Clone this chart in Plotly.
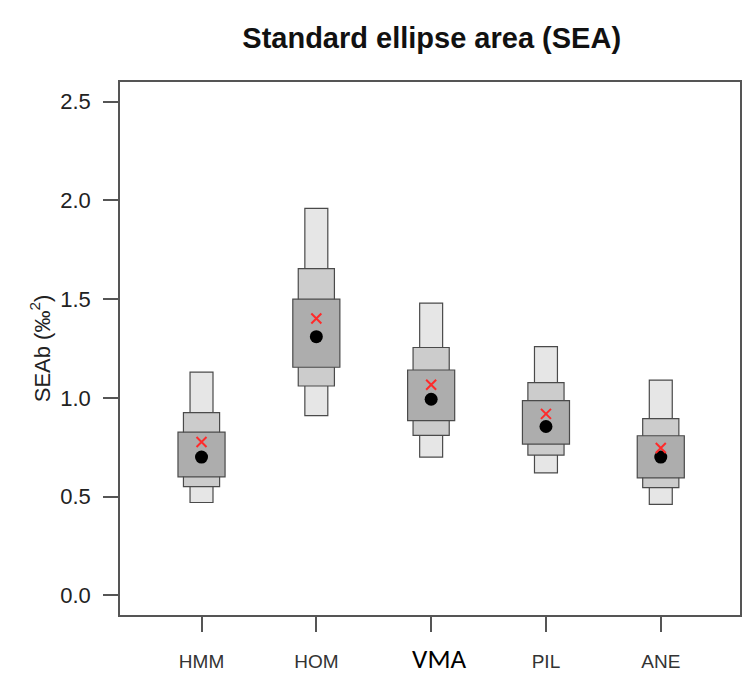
import plotly.graph_objects as go

groups = ["HMM", "HOM", "VMA", "PIL", "ANE"]
xpos = [1, 2, 3, 4, 5]

# credible interval bounds (outer -> inner)
ci_outer_lo = [0.47, 0.91, 0.70, 0.62, 0.46]
ci_outer_hi = [1.13, 1.96, 1.48, 1.26, 1.09]
ci_mid_lo = [0.55, 1.06, 0.81, 0.71, 0.545]
ci_mid_hi = [0.925, 1.655, 1.255, 1.077, 0.895]
ci_inner_lo = [0.60, 1.155, 0.885, 0.766, 0.595]
ci_inner_hi = [0.826, 1.50, 1.141, 0.986, 0.808]
mode_vals = [0.70, 1.31, 0.993, 0.855, 0.70]
ml_vals = [0.776, 1.402, 1.066, 0.919, 0.746]

widths = [0.20, 0.315, 0.41]
fills = ["#E6E6E6", "#CCCCCC", "#ADADAD"]

fig = go.Figure()
for lo, hi, w, c in [(ci_outer_lo, ci_outer_hi, widths[0], fills[0]),
                     (ci_mid_lo, ci_mid_hi, widths[1], fills[1]),
                     (ci_inner_lo, ci_inner_hi, widths[2], fills[2])]:
    fig.add_trace(go.Bar(
        x=xpos, y=[h - l for h, l in zip(hi, lo)], base=lo, width=w,
        marker=dict(color=c, line=dict(color="#4a4a4a", width=1.2)),
        showlegend=False, hoverinfo="skip"))

fig.add_trace(go.Scatter(x=xpos, y=mode_vals, mode="markers",
                         marker=dict(symbol="circle", size=13, color="black"),
                         showlegend=False))
fig.add_trace(go.Scatter(x=xpos, y=ml_vals, mode="markers",
                         marker=dict(symbol="x-thin", size=10,
                                     line=dict(color="#FF2A2A", width=2)),
                         showlegend=False))

ticktext = [g if g != "VMA" else
            '\u00a0\u00a0\u00a0<span style="font-family:Carlito, Liberation Sans, Arial; font-size:27px; color:#000">VMA</span>'
            for g in groups]

fig.update_layout(
    width=743, height=678,
    margin=dict(l=120, r=1, t=82, b=63),
    paper_bgcolor="white", plot_bgcolor="white",
    barmode="overlay",
    font=dict(family="Liberation Sans, Arial", color="#222222"),
    title=dict(text="<b>Standard ellipse area (SEA)</b>", x=0.581, xanchor="center",
               y=0.944, yanchor="middle", font=dict(size=29, color="#111111")),
    xaxis=dict(range=[0.29, 5.69], tickvals=xpos, ticktext=ticktext,
               showgrid=False, zeroline=False, showline=True, mirror=True,
               linecolor="#555555", linewidth=1.5, ticks="outside", ticklen=15,
               tickcolor="#555555", tickwidth=1.5, ticklabelstandoff=13,
               tickfont=dict(size=19, color="#333333")),
    yaxis=dict(range=[-0.1, 2.6], tickvals=[0, 0.5, 1.0, 1.5, 2.0, 2.5],
               ticktext=["0.0", "0.5", "1.0", "1.5", "2.0", "2.5"],
               showgrid=False, zeroline=False, showline=True, mirror=True,
               linecolor="#555555", linewidth=1.5, ticks="outside", ticklen=15,
               tickcolor="#555555", tickwidth=1.5, ticklabelstandoff=8,
               tickfont=dict(size=22, color="#222222"),
               title=dict(text="SEAb (‰<sup>2</sup>)", standoff=4,
                          font=dict(size=22, color="#222222"))),
)

fig.write_html("out.html")
